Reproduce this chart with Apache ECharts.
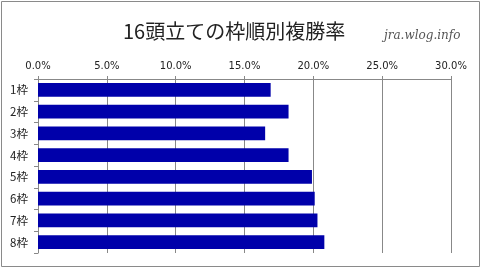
<!DOCTYPE html>
<html><head><meta charset="utf-8">
<script src="https://cdn.jsdelivr.net/npm/echarts@6/dist/echarts.min.js"></script>
<style>html,body{margin:0;padding:0;background:#fff}#c{width:481px;height:268px}</style>
</head><body><div id="c"></div>
<script>
var categories = ['1枠','2枠','3枠','4枠','5枠','6枠','7枠','8枠'];
var placeRate = [16.9, 18.2, 16.5, 18.2, 19.9, 20.1, 20.3, 20.8];
var titleText = '16頭立ての枠順別複勝率';
var watermark = 'jra.wlog.info';

var chart = echarts.init(document.getElementById('c'), null, {renderer:'canvas'});
chart.setOption({
  animation:false,
  backgroundColor:'#fff',
  title:{text:titleText,left:118,top:16,textStyle:{fontFamily:'"Noto Sans CJK JP"',fontSize:20,fontWeight:'normal',color:'#222'}},
  graphic:[
    {type:'rect',shape:{x:1.5,y:1.5,width:478,height:265},style:{fill:'none',stroke:'#8a8a8a',lineWidth:1},z:-1},
    {type:'text',left:384,top:30,style:{text:watermark,font:'italic 12px "DejaVu Serif"',fill:'#555'}}
  ],
  grid:{left:38,right:30,top:79,bottom:15,containLabel:false},
  xAxis:{type:'value',position:'top',min:0,max:30,interval:5,
    axisLabel:{formatter:function(v){return v.toFixed(1)+'%';},fontFamily:'"DejaVu Sans"',fontSize:10,color:'#222',margin:8},
    axisLine:{show:true,lineStyle:{color:'#888'}},
    axisTick:{show:true,length:3,lineStyle:{color:'#888'}},
    splitLine:{show:true,lineStyle:{color:'#888',width:1}}},
  yAxis:{type:'category',data:categories,inverse:true,
    axisLabel:{fontFamily:'"Noto Sans CJK JP"',fontSize:11.5,color:'#222',margin:10},
    axisLine:{show:true,lineStyle:{color:'#888'}},
    axisTick:{show:true,length:4,alignWithLabel:false,lineStyle:{color:'#888'}}},
  series:[{type:'bar',data:placeRate,barCategoryGap:'36%',itemStyle:{color:'#0000AA'}}]
});
</script></body></html>
